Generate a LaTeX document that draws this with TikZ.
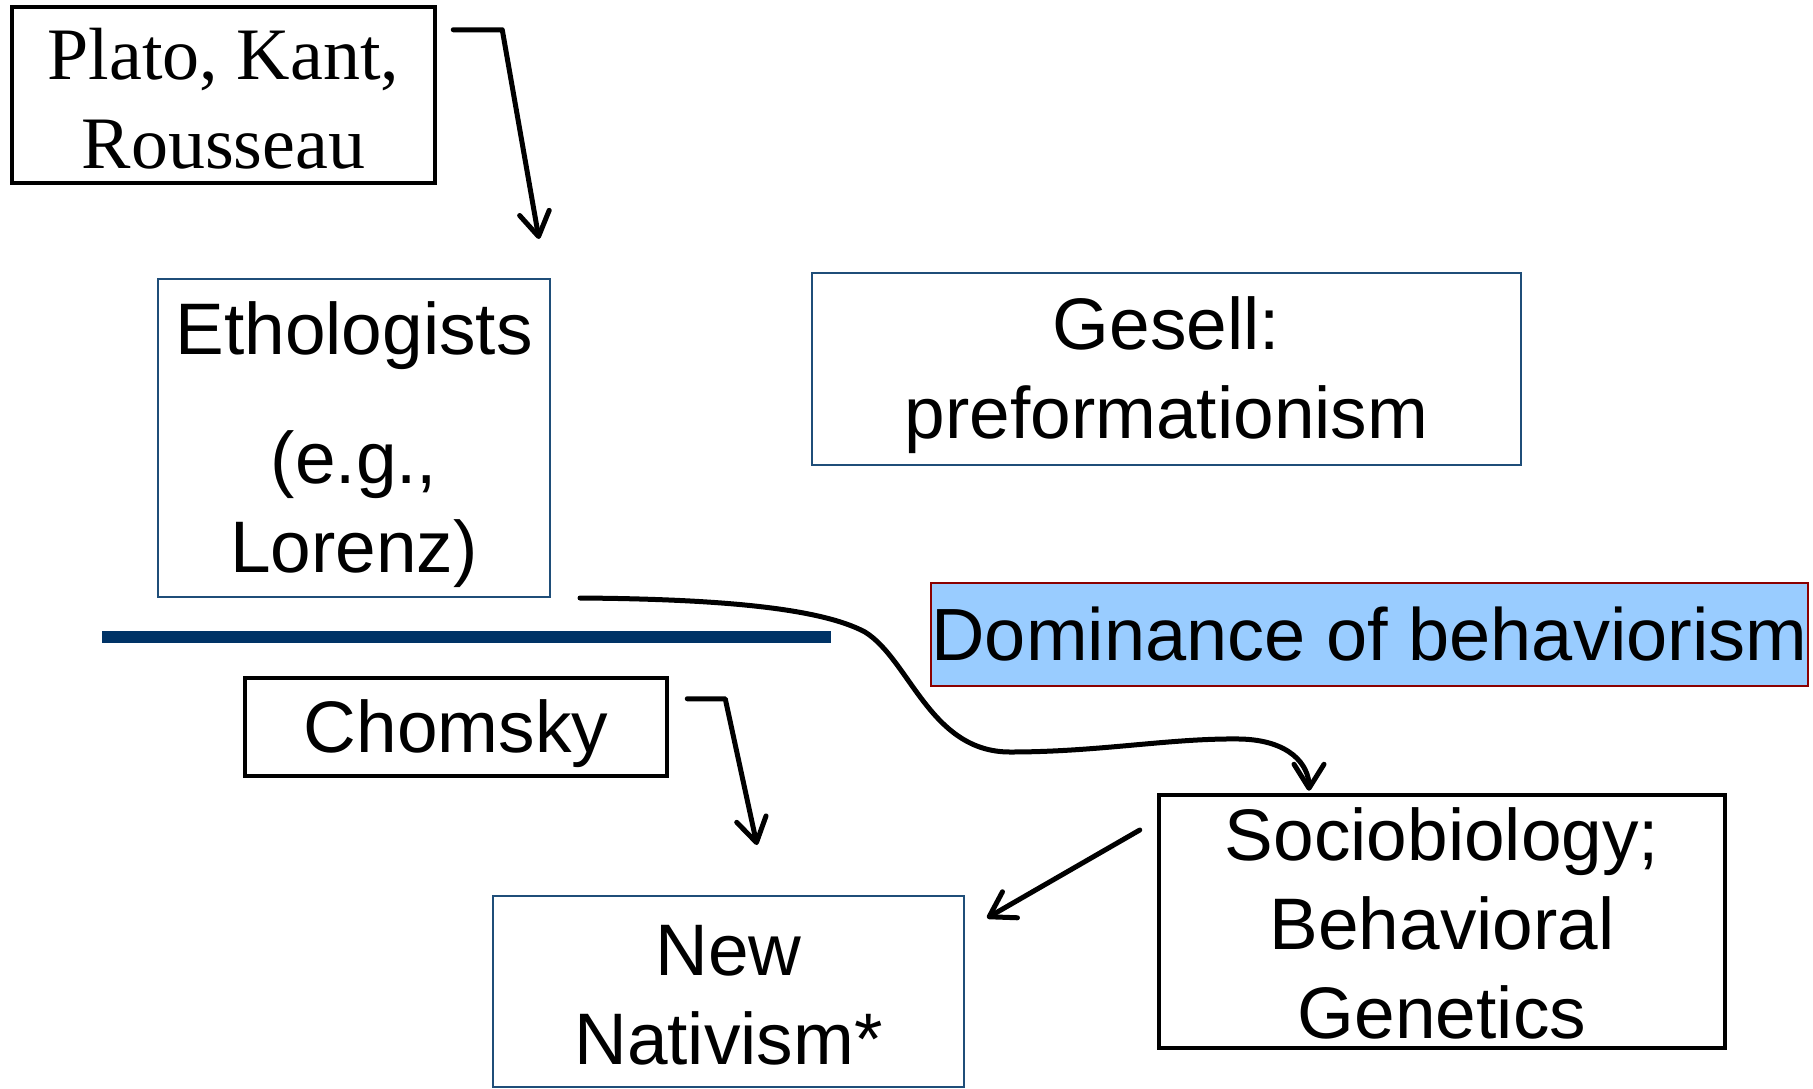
\documentclass[tikz,border=0pt]{standalone}
\usepackage{fontspec}
\setmainfont{Liberation Sans}
\newfontfamily\timesfont{Liberation Serif}
\usetikzlibrary{arrows.meta,calc}
\definecolor{boxblue}{HTML}{1F4E79}
\definecolor{barblue}{HTML}{003366}
\definecolor{domfill}{HTML}{99CCFF}
\definecolor{domred}{HTML}{8B0000}
\newcommand{\mystrut}[1][0.9em]{\rule{0pt}{#1}}
\begin{document}
\begin{tikzpicture}[x=1pt,y=-1pt,
  txt/.style={inner sep=0pt,align=center,font=\fontsize{73}{89}\selectfont},
  blackbox/.style={txt,draw=black,line width=4.5pt},
  bluebox/.style={txt,draw=boxblue,line width=2pt},
  dombox/.style={txt,draw=domred,fill=domfill,line width=2pt,font=\fontsize{74}{89}\selectfont},
  arr/.style={line width=5pt,line cap=round,line join=round,-{Straight Barb[length=24pt,width=30pt,round]}},
  bar/.style={draw=barblue,line width=12pt}]
\useasboundingbox (0,0) rectangle (1813,1088);

\node[blackbox,minimum width=423pt,minimum height=176pt,
      font=\timesfont\fontsize{74}{89}\selectfont] (plato) at (223.5,95) {\mystrut[0.78em]Plato, Kant,\\Rousseau};
\node[bluebox,minimum width=392pt,minimum height=318pt] (etho) at (354,438)
  {\mystrut Ethologists\\[40pt](e.g.,\\Lorenz)};
\node[bluebox,minimum width=709pt,minimum height=192pt] (gesell) at (1166.5,369)
  {\mystrut Gesell:\\preformationism};
\node[dombox,minimum width=875pt,minimum height=103pt] (dom) at (1369.5,634.5)
  {Dominance of behaviorism};
\node[blackbox,minimum width=422pt,minimum height=98pt] (chomsky) at (456,727) {\mystrut Chomsky};
\node[bluebox,minimum width=471pt,minimum height=191pt] (newnat) at (728.5,991.5)
  {\mystrut[0.78em]New\\Nativism*};
\node[blackbox,minimum width=566pt,minimum height=253pt] (socio) at (1442,921.5)
  {\mystrut[0.79em]Sociobiology;\\Behavioral\\Genetics};

\coordinate (barL) at (102,637);
\coordinate (barR) at (831,637);
\draw[bar] (barL) -- (barR);

% Plato -> Ethologists
\draw[arr] ($(plato.north east)+(16,25)$) -- ++(49,0) -- ($(etho.north east)+(-12,-39)$);
% Chomsky -> New Nativism
\draw[arr] ($(chomsky.north east)+(18,23)$) -- ++(38,0) -- ($(newnat.north)+(28.5,-50)$);
% Sociobiology -> New Nativism
\draw[arr] ($(socio.west)+(-17,-91.5)$) -- ($(newnat.north east)+(22,23)$);
% Ethologists -> Sociobiology (curved)
\draw[arr] ($(etho.south east)+(29,0)$)
  .. controls (720,599) and (820,608) .. (865,632)
  .. controls (910,660) and (930,752) .. (1010,752)
  .. controls (1100,752) and (1170,738) .. (1240,739)
  .. controls (1290,740) and (1309,765) .. ($(socio.north)+(-133,-2)$);
\end{tikzpicture}
\end{document}
